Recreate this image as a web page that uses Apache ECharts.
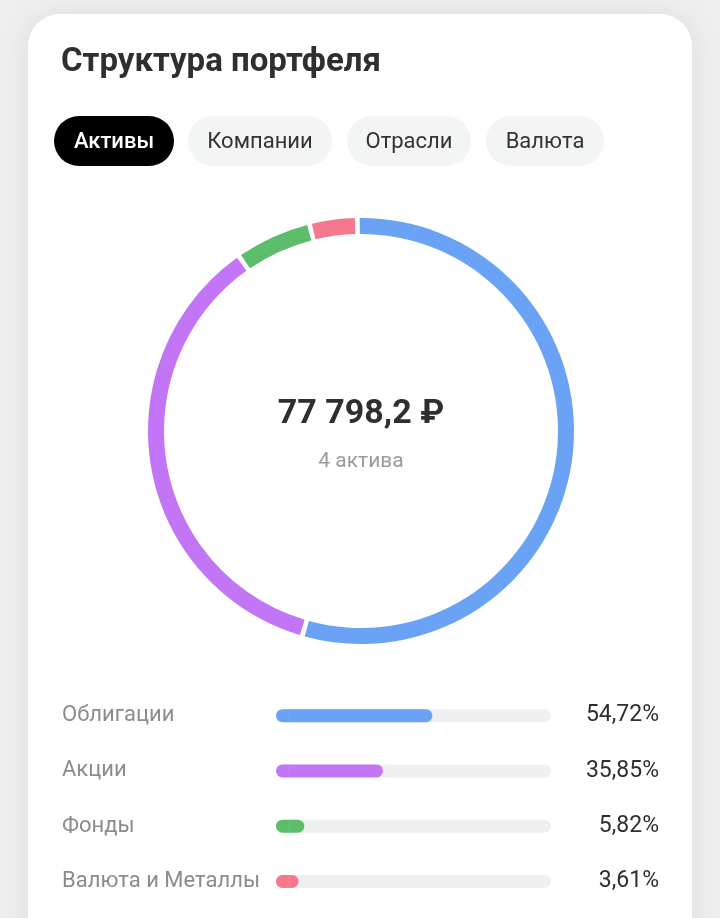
<!DOCTYPE html>
<html><head><meta charset="utf-8">
<script src="https://cdn.jsdelivr.net/npm/echarts@6/dist/echarts.min.js"></script>
<style>html,body{margin:0;padding:0;background:#efefef;}#c{width:720px;height:918px;}</style>
</head><body><div id="c"></div>
<script>
const titleText = 'Структура портфеля';
const tabs = ['Активы', 'Компании', 'Отрасли', 'Валюта'];
const activeTab = 0;
const categories = ['Облигации', 'Акции', 'Фонды', 'Валюта и Металлы'];
const shares = [54.72, 35.85, 5.82, 3.61];
const colors = ['#6aa3f5', '#c275f5', '#5cbe6a', '#f6788e'];
const totalText = '77 798,2 ₽';
const countText = '4 актива';

const FONT = 'Roboto, "Noto Sans", sans-serif';
const chart = echarts.init(document.getElementById('c'), null, {renderer: 'canvas'});

// tab geometry (layout only)
const tabX = [54, 188, 347, 486];
const tabW = [120, 144, 124, 118];
const graphics = [
  {type: 'rect', shape: {x: 28, y: 14, width: 664, height: 980, r: 32},
   style: {fill: '#ffffff', shadowBlur: 30, shadowColor: 'rgba(0,0,0,0.08)'}, z: -10},
  {type: 'text', x: 61, y: 63, style: {text: titleText, font: 'bold 33px ' + FONT, fill: '#2f2f2f', textVerticalAlign: 'middle'}}
];
tabs.forEach((t, i) => {
  graphics.push({type: 'rect', shape: {x: tabX[i], y: 116, width: tabW[i], height: 50, r: 25},
    style: {fill: i === activeTab ? '#000000' : '#f3f4f4'}});
  graphics.push({type: 'text', x: tabX[i] + tabW[i] / 2, y: 142,
    style: {text: t, font: (i === activeTab ? '500 ' : '400 ') + '22px ' + FONT,
      fill: i === activeTab ? '#ffffff' : '#333333', textAlign: 'center', textVerticalAlign: 'middle'}});
});
graphics.push({type: 'text', x: 361, y: 414, style: {text: totalText, font: 'bold 34px ' + FONT, fill: '#2f2f2f', textAlign: 'center', textVerticalAlign: 'middle'}});
graphics.push({type: 'text', x: 361, y: 462, style: {text: countText, font: '21px ' + FONT, fill: '#9a9a9a', textAlign: 'center', textVerticalAlign: 'middle'}});

const CAP = 5;
const fmt = v => v.toFixed(2).replace('.', ',') + '%';

chart.setOption({
  animation: false,
  graphic: graphics,
  grid: {left: 276, right: 169, top: 688, bottom: 9, containLabel: false},
  xAxis: {type: 'value', min: 0, max: 100 + CAP, show: false},
  yAxis: [
    {type: 'category', data: categories, inverse: true, position: 'left',
     axisLine: {show: false}, axisTick: {show: false}, splitLine: {show: false},
     axisLabel: {align: 'left', margin: 214, color: '#8c8c8c', fontSize: 22, fontFamily: FONT}},
    {type: 'category', data: shares.map(fmt), inverse: true, position: 'right',
     axisLine: {show: false}, axisTick: {show: false}, splitLine: {show: false},
     axisLabel: {align: 'right', margin: 108, color: '#2f2f2f', fontSize: 23, fontFamily: FONT}}
  ],
  series: [
    {type: 'pie', silent: true, center: [361, 431], radius: [197, 213], startAngle: 91, clockwise: true,
     padAngle: 1.3, label: {show: false}, labelLine: {show: false},
     data: categories.map((c, i) => ({name: c, value: shares[i], itemStyle: {color: colors[i]}}))},
    {type: 'bar', stack: 's', silent: true, barWidth: 13, yAxisIndex: 0,
     showBackground: true, backgroundStyle: {color: '#eff0f2', borderRadius: 6.5},
     data: categories.map((c, i) => ({value: CAP, itemStyle: {color: colors[i], borderRadius: [6.5, 0, 0, 6.5]}}))},
    {type: 'bar', stack: 's', silent: true, barWidth: 13, yAxisIndex: 0,
     data: shares.map((v, i) => ({value: v, itemStyle: {color: colors[i], borderRadius: [0, 6.5, 6.5, 0]}}))}
  ]
});
</script></body></html>
